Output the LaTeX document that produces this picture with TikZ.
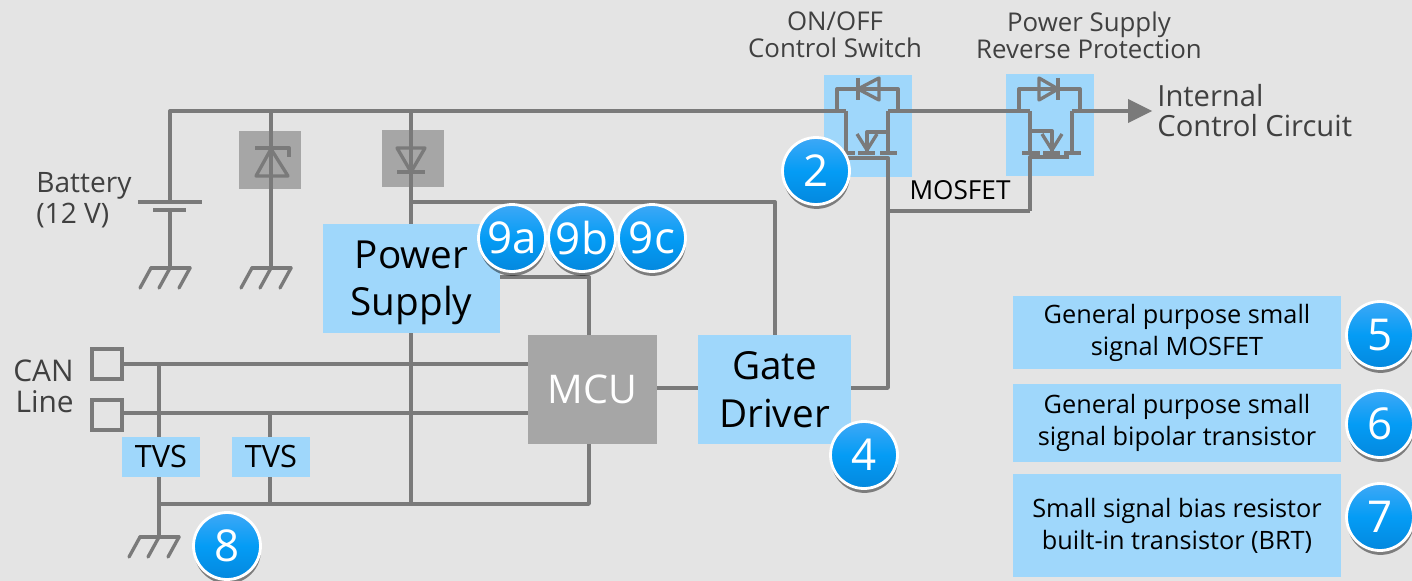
\documentclass[tikz,border=0pt]{standalone}
\usepackage{fontspec}
\setmainfont{Open Sans}
\usetikzlibrary{arrows.meta,positioning,calc,shadows}
\definecolor{cbg}{RGB}{228,228,228}
\definecolor{cbox}{RGB}{159,215,251}
\definecolor{cgrey}{RGB}{166,166,166}
\definecolor{cwire}{RGB}{122,122,122}
\definecolor{ctxt}{RGB}{64,64,64}
\newcommand{\fsz}[1]{\fontsize{#1}{#1}\selectfont}
\tikzset{
  wire/.style={cwire, line width=1.9pt, line join=round},
  bluebox/.style={fill=cbox, inner sep=0pt, align=center, text=black},
  greybox/.style={fill=cgrey, inner sep=0pt, align=center},
  lab/.style={inner sep=0pt, align=center, text=ctxt},
  badge/.style={circle, draw=white, line width=1.6pt, top color=cbadget, bottom color=cbadgeb,
    middle color=cbadgem, minimum size=1.34cm, inner sep=0pt, text=white, font=\fsz{25},
    drop shadow={shadow xshift=0.3pt, shadow yshift=-2.5pt, fill=black, opacity=0.45}},
}
\definecolor{cbadget}{RGB}{62,168,246}
\definecolor{cbadgem}{RGB}{4,156,245}
\definecolor{cbadgeb}{RGB}{4,136,222}
\begin{document}
\begin{tikzpicture}[x=0.02cm, y=-0.02cm]
  \fill[cbg] (0,0) rectangle (1412,581);
  \useasboundingbox (0,0) rectangle (1412,581);
  % boxes
  \node[bluebox, minimum width=1.76cm, minimum height=2.04cm] (swa) at (868,126) {};
  \node[bluebox, minimum width=1.76cm, minimum height=2.04cm] (swb) at (1050,125) {};
  \node[greybox, minimum width=1.24cm, minimum height=1.16cm] (tvd) at (270,160) {};
  \node[greybox, minimum width=1.24cm, minimum height=1.14cm] (rvd) at (413,158.5) {};
  \node[bluebox, minimum width=3.54cm, minimum height=2.18cm, font=\fsz{22}] (psu) at (411.5,278.5) {\rule{0pt}{20.4pt}Power\\[4.6pt]Supply};
  \node[greybox, minimum width=2.58cm, minimum height=2.18cm, font=\fsz{22.5}, text=white] (mcu) at (592.5,389.5) {MCU};
  \node[bluebox, minimum width=3.06cm, minimum height=2.18cm, font=\fsz{22}] (gdr) at (774.5,389.5) {Gate\\[5.5pt]Driver};
  \node[bluebox, minimum width=1.56cm, minimum height=0.8cm, font=\fsz{17.5}] (tvsa) at (161,457) {TVS};
  \node[bluebox, minimum width=1.56cm, minimum height=0.8cm, font=\fsz{17.5}] (tvsb) at (271,457) {TVS};
  \node[bluebox, minimum width=6.56cm, minimum height=1.46cm, font=\fsz{14.4}] (boxa) at (1177,332.5) {General purpose small\\[3.8pt]signal MOSFET};
  \node[bluebox, minimum width=6.56cm, minimum height=1.56cm, font=\fsz{14.4}] (boxb) at (1177,423) {General purpose small\\[3.8pt]signal bipolar transistor};
  \node[bluebox, minimum width=6.56cm, minimum height=2.06cm, font=\fsz{14.4}] (boxc) at (1177,525.5) {Small signal bias resistor\\[3.8pt]built-in transistor (BRT)};
  \node[draw=cwire, line width=1.9pt, minimum size=0.6cm, inner sep=0pt] (cana) at (107,364) {};
  \node[draw=cwire, line width=1.9pt, minimum size=0.6cm, inner sep=0pt] (canb) at (107,415) {};
  % junctions
  \coordinate (bat) at (170,111);
  \coordinate (tap) at (271,111);
  \coordinate (rev) at (411,111);
  \coordinate (swl) at (846,111);
  \coordinate (swr) at (888,111);
  \coordinate (rvl) at (1030,111);
  \coordinate (rvr) at (1072,111);
  \coordinate (end) at (1130,111);
  \coordinate (tip) at (1152,111);
  \coordinate (drv) at (411,202);
  \coordinate (top) at (775,202);
  \coordinate (gtm) at (888,211);
  \coordinate (gtr) at (1030,211);
  \coordinate (gnda) at (170,268);
  \coordinate (gndb) at (271,268);
  \coordinate (gndc) at (159,537);
  % wires
  \draw[wire] (gnda) -- (170,210) (170,202) -- (bat) -- (tap) -- (rev) -- (swl);
  \draw[wire] (swr) -- (rvl) (rvr) -- (end);
  \draw[wire] (138,202) -- (202,202) (153,210) -- (186,210);
  \draw[wire] (tap) -- (gndb);
  \draw[wire] (rev) -- (rev |- psu.north);
  \draw[wire] (drv) -- (top) -- (top |- gdr.north);
  \draw[wire] (411,333) -- (411,504);
  \draw[wire] (psu.east |- 0,277) -- (589,277) -- (589,335);
  \draw[wire] (cana.east) -- (mcu.west |- cana.east);
  \draw[wire] (canb.east |- 0,413) -- (mcu.west |- 0,413);
  \draw[wire] (mcu.east |- 0,388) -- (gdr.west |- 0,388);
  \draw[wire] (gdr.east |- 0,388) -- (888,388) -- (gtm) -- (gtr);
  \draw[wire] (159,365) -- (159,437) (159,477) -- (gndc);
  \draw[wire] (270,413) -- (270,437) (270,477) -- (270,504);
  \draw[wire] (159,504) -- (589,504) -- (589,444);
  % grounds
  \foreach \g in {gnda,gndb,gndc}{
    \draw[wire, line cap=round] ($(\g)+(-19,0)$) -- ($(\g)+(20,0)$);
    \draw[wire, line cap=round] ($(\g)+(-19,0)$) -- ++(-11,20);
    \draw[wire, line cap=round] ($(\g)+(0,0)$) -- ++(-11,20);
    \draw[wire, line cap=round] ($(\g)+(20,0)$) -- ++(-11,20);
  }
  % diodes
  \draw[wire] (271,149) -- (256,176) -- (288,176) -- cycle;
  \draw[wire] (255,148) -- (289,148) -- (289,157);
  \draw[wire] (397,148) -- (425,148) -- (411,172) -- cycle;
  \draw[wire] (397,172) -- (425,172);
  % first mosfet
  \draw[wire] (swl) -- (846,153) (swr) -- (888,153);
  \draw[wire] (837,111) -- (837,89) -- (898,89) -- (898,111) -- (swr);
  \draw[wire] (858,89) -- (879,78) -- (879,100) -- cycle;
  \draw[wire] (858,78) -- (858,100);
  \draw[wire] (836,153) -- (855,153) (858,153) -- (875,153) (880,153) -- (897,153);
  \draw[wire] (848,158) -- (888,158) -- (888,211);
  \draw[wire] (888,132) -- (867,132) -- (867,153);
  \draw[wire] (857,134) -- (867,150) -- (877,134);
  % second mosfet
  \draw[wire] (rvl) -- (1030,153) (rvr) -- (1072,153);
  \draw[wire] (1019,111) -- (1019,89) -- (1080,89) -- (1080,111);
  \draw[wire] (1058,89) -- (1039,78) -- (1039,100) -- cycle;
  \draw[wire] (1058,78) -- (1058,100);
  \draw[wire] (1022,153) -- (1040,153) (1043,153) -- (1060,153) (1064,153) -- (1081,153);
  \draw[wire] (1069,157) -- (1030,157) -- (gtr);
  \draw[wire] (1030,131) -- (1052,131) -- (1052,153);
  \draw[wire] (1042,134) -- (1052,150) -- (1062,134);
  % arrow
  \fill[cwire] (tip) -- (1128,99) -- (1128,123) -- cycle;
  % labels
  \node[lab, font=\fsz{14.7}] (onoff) at (835,35) {ON/OFF\\[0.7pt]Control Switch};
  \node[lab, font=\fsz{14.7}] (revp) at (1089,35) {Power Supply\\[0.7pt]Reverse Protection};
  \node[lab, font=\fsz{16.6}, align=left, anchor=west] (intc) at (1157,111) {Internal\\[0.5pt]Control Circuit};
  \node[lab, font=\fsz{16}, align=left, anchor=west] (bata) at (36,200) {Battery\\[1.6pt](12 V)};
  \node[lab, font=\fsz{17}, align=right, anchor=east] (canl) at (74,386) {CAN\\[0.6pt]Line};
  \node[lab, font=\fsz{14.9}, text=black] (mosl) at (960,190) {MOSFET};
  % badges
  \node[badge] (ba) at (816,171) {2};
  \node[badge] (bb) at (512,238) {9a};
  \node[badge] (bc) at (582,238) {9b};
  \node[badge] (bd) at (652,238) {9c};
  \node[badge] (be) at (864,455) {4};
  \node[badge] (bf) at (227,546) {8};
  \node[badge] (bg) at (1380,335) {5};
  \node[badge] (bh) at (1380,424) {6};
  \node[badge] (bi) at (1380,517) {7};
\end{tikzpicture}
\end{document}
